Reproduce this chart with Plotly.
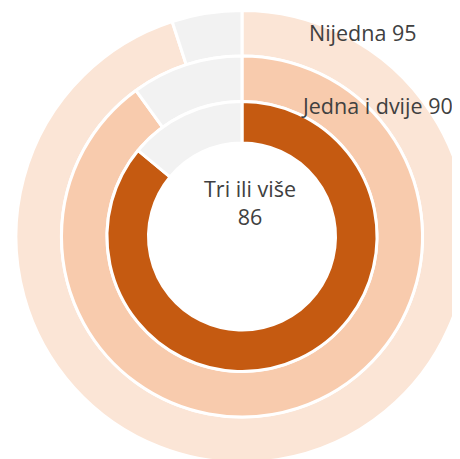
import plotly.graph_objects as go

# Data
ring_names = ["Nijedna", "Jedna i dvije", "Tri ili više"]
ring_values = [95, 90, 86]
ring_colors = ["#FBE5D6", "#F8CBAD", "#C55A11"]
rest_color = "#F2F2F2"

W, H = 470, 466
OFF = 8  # page body margin
cx, cy = 242 - OFF, 236.5 - OFF  # pixel centre (from top-left of figure)
radii = [226, 180.5, 135]
holes = [180.5 / 226, 135 / 180.5, 93.5 / 135]

fig = go.Figure()
for name, val, col, r, hole in zip(ring_names, ring_values, ring_colors, radii, holes):
    fig.add_trace(go.Pie(
        values=[val, 100 - val],
        labels=[name, "ostalo"],
        sort=False,
        direction="clockwise",
        rotation=0,
        hole=hole,
        textinfo="none",
        hoverinfo="label+value",
        marker=dict(colors=[col, rest_color], line=dict(color="white", width=3)),
        domain=dict(x=[(cx - r) / W, (cx + r) / W], y=[1 - (cy + r) / H, 1 - (cy - r) / H]),
        showlegend=False,
    ))

font = dict(family="Open Sans, Liberation Sans, sans-serif", size=21.5, color="#404040")


def px(x):
    return (x - OFF) / W


def py(y):
    return 1 - (y - OFF) / H


fig.add_annotation(x=px(307), y=py(32.5), xref="paper", yref="paper", xanchor="left", yanchor="middle",
                   text=f"{ring_names[0]} {ring_values[0]}", showarrow=False, font=font)
fig.add_annotation(x=px(299), y=py(105.5), xref="paper", yref="paper", xanchor="left", yanchor="middle",
                   text=f"{ring_names[1]} {ring_values[1]}", showarrow=False, font=font)
fig.add_annotation(x=px(250), y=py(202), xref="paper", yref="paper", xanchor="center", yanchor="middle",
                   text=f"{ring_names[2]}<br>{ring_values[2]}", showarrow=False, font=font)

fig.update_layout(width=W, height=H, margin=dict(l=0, r=0, t=0, b=0),
                  paper_bgcolor="white", plot_bgcolor="white")
fig.write_html("out.html")
